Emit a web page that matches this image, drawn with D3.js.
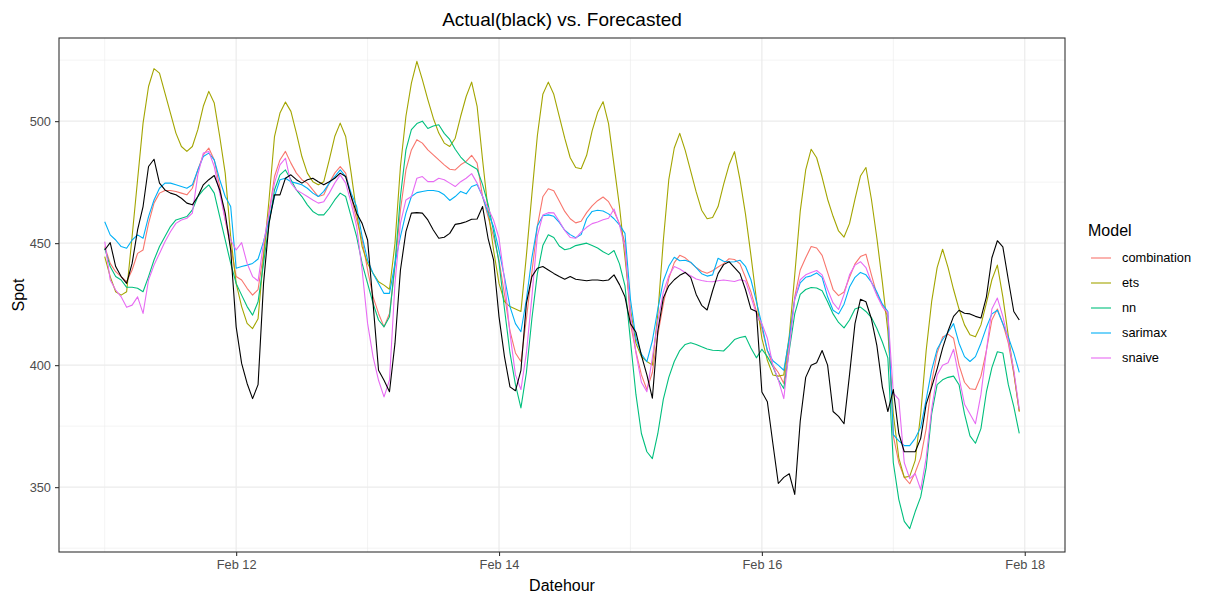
<!DOCTYPE html>
<html>
<head>
<meta charset="utf-8">
<script src="https://cdn.jsdelivr.net/npm/d3@7"></script>
<style>
  body { margin: 0; background: #ffffff; }
  svg { display: block; }
  text { font-family: "Liberation Sans", Arial, Helvetica, sans-serif; }
</style>
</head>
<body>
<svg id="chart" width="1207" height="599"></svg>
<script>
// Hourly observations, Feb 11 00:00 through Feb 17 23:00
const startTime = Date.UTC(2019, 1, 11, 0, 0);

const actual = [
  447.2,450.2,440.4,436.3,433.5,441.7,455.4,465.0,481.4,484.4,474.6,471.8,470.5,469.8,468.4,466.4,465.7,469.1,473.9,476.0,477.7,471.8,462.3,447.2,
  415.7,400.7,392.5,386.3,392.0,433.5,458.1,469.8,469.8,476.6,478.0,476.0,474.6,476.0,476.6,475.2,473.9,475.2,476.6,478.7,477.3,469.1,462.3,458.1,
  451.3,425.3,397.9,393.8,389.1,408.9,439.0,454.7,462.3,462.5,462.3,459.5,455.4,452.0,452.4,454.0,457.7,458.1,458.8,459.8,459.9,465.0,452.0,443.1,
  419.8,403.4,391.1,389.5,397.9,425.3,436.3,439.7,440.4,439.0,437.6,436.3,435.2,436.3,435.2,434.9,434.6,434.9,434.9,434.6,434.9,437.0,433.0,428.0,
  417.0,413.5,404.0,396.0,386.5,414.0,427.5,432.5,435.0,436.8,438.0,436.0,429.0,424.5,422.6,430.5,437.5,441.2,442.4,440.0,437.5,431.0,423.0,422.0,
  389.0,385.0,368.0,351.5,354.0,355.5,347.0,377.0,395.0,400.0,401.0,406.0,400.0,381.0,379.0,376.0,396.0,417.0,427.0,426.0,419.0,408.0,391.0,381.0,
  390.0,372.0,364.5,364.5,364.5,370.0,384.0,391.0,398.5,407.0,414.0,420.0,422.5,421.3,421.0,420.0,419.3,428.0,444.0,451.0,448.5,435.0,422.0,418.5
];

const combination = [
  448.6,441.7,438.3,436.3,434.2,439.0,445.8,447.2,458.1,466.4,470.5,471.6,471.6,471.2,470.5,469.8,472.5,480.0,486.2,489.0,484.1,473.2,459.5,448.6,
  436.3,434.9,431.5,428.7,431.0,445.8,462.3,477.3,484.1,487.6,482.8,478.7,476.0,474.6,471.8,469.1,469.8,474.6,478.7,481.4,478.7,469.1,459.5,451.3,
  439.0,428.0,421.2,415.7,421.2,440.4,463.6,480.0,488.2,492.4,491.0,488.2,486.2,484.1,482.1,480.3,480.0,482.1,483.5,486.0,482.8,469.1,460.9,452.7,
  443.0,429.0,414.0,405.0,401.5,419.0,438.0,457.0,469.0,472.3,471.5,467.3,463.0,460.0,458.3,459.0,462.5,465.3,467.4,468.9,467.0,463.0,458.0,450.0,
  417.0,405.5,396.0,390.0,397.0,412.5,425.0,435.5,442.0,445.0,444.0,442.0,440.0,438.5,437.7,438.7,440.2,441.6,443.6,443.3,441.5,436.0,430.0,422.0,
  415.0,406.0,400.0,397.0,392.5,410.0,428.0,439.0,444.0,448.6,448.0,445.0,438.0,431.0,428.5,430.0,436.0,441.5,444.5,445.5,437.0,429.0,424.5,420.0,
  371.0,360.0,354.0,351.4,356.0,362.0,374.0,393.0,405.0,411.5,412.7,411.0,400.0,393.0,390.3,390.0,395.5,406.0,418.5,423.0,417.0,409.0,396.5,381.0
];

const ets = [
  444.5,436.3,430.1,428.7,430.1,452.7,476.0,499.2,514.2,521.5,519.7,511.5,503.3,495.1,489.6,487.6,489.6,496.5,506.1,512.2,507.4,493.7,478.7,452.7,
  433.5,424.0,417.1,415.0,419.0,444.5,467.7,493.7,503.3,507.8,504.0,495.1,485.5,478.7,475.2,473.9,475.2,484.1,493.7,499.2,493.7,478.7,462.3,448.6,
  441.7,437.6,434.2,432.8,431.1,449.9,481.4,502.0,515.6,524.5,517.0,508.8,501.2,495.1,491.0,489.6,493.0,502.0,510.1,516.0,506.1,484.1,463.6,447.2,
  433.5,426.0,424.0,423.0,422.0,445.0,470.0,494.0,511.0,516.0,511.0,502.0,493.0,485.0,481.0,480.5,486.0,496.0,503.5,508.0,499.0,482.0,465.0,444.0,
  423.0,409.0,403.5,401.5,400.0,421.0,451.0,476.0,489.0,495.0,488.0,479.5,471.0,463.5,460.0,460.5,465.0,474.0,482.0,487.5,476.0,462.0,445.0,427.0,
  411.0,402.0,396.0,395.5,396.0,412.0,437.0,463.0,480.0,488.5,485.0,477.0,468.0,461.0,455.0,452.5,458.0,468.0,477.5,481.0,468.0,452.0,434.0,414.0,
  380.0,362.0,354.0,354.5,361.0,380.0,406.0,426.0,440.0,447.5,440.0,431.0,423.0,416.5,412.5,411.6,416.5,425.5,435.0,441.0,428.0,412.0,397.0,381.0
];

const nn = [
  447.9,440.4,436.3,434.9,431.9,431.9,431.5,430.1,436.3,443.1,448.6,452.7,456.8,459.5,460.2,460.9,463.6,469.1,471.8,473.9,470.5,460.9,451.3,441.7,
  433.5,428.7,424.0,420.5,426.0,441.7,458.1,471.8,478.0,480.0,476.0,471.8,469.1,465.7,463.0,461.6,461.6,464.3,467.7,470.5,469.1,460.9,452.7,441.7,
  433.5,425.3,418.5,415.7,419.8,441.7,469.1,488.2,496.5,499.0,500.0,497.0,498.0,498.5,495.0,492.5,488.5,485.3,483.0,481.6,480.3,474.0,466.0,455.0,
  442.0,423.0,405.0,392.0,382.5,397.0,419.0,437.5,449.0,453.4,452.3,448.8,447.3,447.8,449.0,449.5,450.0,449.0,448.0,446.5,445.3,447.0,441.5,432.5,
  410.0,388.0,372.0,364.5,361.7,372.0,386.0,395.0,401.5,406.0,408.5,409.2,408.5,407.5,406.6,406.1,406.0,405.8,408.0,410.5,411.3,411.8,407.0,403.0,
  406.5,403.5,399.5,394.0,390.4,406.0,421.0,429.0,431.0,431.8,431.6,430.5,426.0,421.0,417.5,415.3,418.5,423.0,423.8,422.0,419.5,415.0,409.5,403.0,
  360.0,345.0,336.0,333.0,340.0,346.0,358.0,380.0,392.0,394.0,395.0,395.5,392.0,380.0,371.0,368.0,374.0,389.0,399.0,405.5,405.0,392.0,383.0,372.0
];

const sarimax = [
  458.8,453.4,451.3,448.6,447.9,451.3,453.4,452.0,460.9,467.7,472.5,474.6,474.6,473.9,473.2,472.5,473.9,480.0,485.5,486.9,484.1,476.0,469.1,465.0,
  439.7,440.4,441.0,441.7,443.5,450.6,459.5,469.1,476.0,476.6,475.2,474.6,473.9,472.5,470.5,469.1,471.2,474.6,477.3,480.0,477.3,470.5,465.0,452.7,
  443.1,437.6,433.5,429.4,429.4,441.7,452.7,462.3,469.1,470.7,471.2,471.6,471.6,471.2,469.8,467.5,469.1,471.2,470.2,473.2,474.0,469.1,462.3,456.8,
  447.0,436.0,424.0,417.0,413.7,427.0,444.0,457.0,461.2,461.6,461.0,458.5,455.3,453.5,452.2,453.5,460.0,463.0,463.5,463.2,462.0,460.0,457.5,454.0,
  427.0,411.0,404.5,401.4,410.0,423.0,434.5,440.5,444.2,442.8,443.0,442.2,440.0,437.5,436.5,437.0,443.8,442.6,442.3,442.4,443.0,440.5,435.0,426.0,
  416.5,406.0,401.8,400.0,397.9,411.0,427.0,433.7,436.0,436.6,437.8,436.0,428.0,422.5,421.0,425.0,432.0,436.0,438.0,437.0,434.0,430.0,425.0,422.0,
  371.5,369.0,367.0,367.0,370.0,374.5,386.0,398.0,406.5,410.5,413.5,417.0,409.0,403.5,401.5,403.5,409.0,415.5,421.0,422.5,417.0,411.5,405.0,397.0
];

const snaive = [
  450.6,434.9,430.8,428.0,423.7,424.6,428.0,421.2,434.9,441.0,445.8,450.6,454.7,458.1,459.5,460.2,462.3,478.0,486.9,487.6,481.4,470.5,459.5,451.3,
  447.2,450.2,441.7,436.3,434.5,449.9,462.3,474.6,482.1,484.8,474.6,471.8,470.5,469.1,467.7,466.4,467.0,470.5,474.6,478.0,474.6,466.4,456.8,439.0,
  417.1,403.4,393.8,387.0,393.8,433.5,458.1,467.7,469.1,476.6,477.3,475.2,475.2,476.6,476.0,474.6,473.2,475.2,476.6,478.5,474.6,469.1,464.3,459.5,
  452.0,435.0,413.0,396.0,390.0,405.0,428.0,453.0,461.5,462.5,462.4,459.0,455.2,452.3,452.0,454.5,456.5,458.0,458.7,459.6,460.2,464.0,457.5,448.0,
  421.0,405.0,393.0,389.1,403.0,418.0,430.0,436.5,440.4,439.4,438.0,436.6,435.3,434.7,434.3,434.2,434.6,434.9,434.6,434.3,435.0,434.5,428.0,421.0,
  417.0,411.0,400.0,394.0,386.3,407.0,427.0,435.0,437.0,438.0,438.8,437.0,431.0,425.5,422.8,429.0,437.0,441.0,442.4,440.0,434.0,428.5,424.0,421.5,
  388.5,386.0,360.0,353.5,355.5,349.0,362.0,382.0,396.0,400.0,401.0,406.5,395.0,384.0,380.0,376.0,388.0,406.0,423.0,427.5,420.0,410.0,398.0,382.0
];

const modelNames = ["combination", "ets", "nn", "sarimax", "snaive"];
const modelValues = [combination, ets, nn, sarimax, snaive];
const modelColors = ["#F8766D", "#A3A500", "#00BF7D", "#00B0F6", "#E76BF3"];

const yMajorTicks = [350, 400, 450, 500];
const yMinorTicks = [325, 375, 425, 475, 525];
const xMajorTicks = [Date.UTC(2019, 1, 12), Date.UTC(2019, 1, 14), Date.UTC(2019, 1, 16), Date.UTC(2019, 1, 18)];
const xMinorTicks = [Date.UTC(2019, 1, 11), Date.UTC(2019, 1, 13), Date.UTC(2019, 1, 15), Date.UTC(2019, 1, 17)];
const xTickLabels = ["Feb 12", "Feb 14", "Feb 16", "Feb 18"];

const HOUR = 3600 * 1000;
const timeAt = i => new Date(startTime + i * HOUR);

// Panel geometry
const panel = { left: 59, right: 1065, top: 38, bottom: 552 };

const svg = d3.select("#chart");
svg.append("rect").attr("width", 1207).attr("height", 599).attr("fill", "#ffffff");

// Scales expanded by 5% on each side of the data range
const tExtent = [timeAt(0), timeAt(actual.length - 1)];
const tPad = (tExtent[1] - tExtent[0]) * 0.05;
const x = d3.scaleUtc()
  .domain([new Date(+tExtent[0] - tPad), new Date(+tExtent[1] + tPad)])
  .range([panel.left, panel.right]);

const allValues = [actual, ...modelValues].flat();
const vMin = d3.min(allValues), vMax = d3.max(allValues);
const vPad = (vMax - vMin) * 0.05;
const y = d3.scaleLinear()
  .domain([vMin - vPad, vMax + vPad])
  .range([panel.bottom, panel.top]);

// Grid lines
const grid = svg.append("g");
grid.selectAll("line.ymin").data(yMinorTicks).join("line")
  .attr("x1", panel.left).attr("x2", panel.right)
  .attr("y1", d => y(d)).attr("y2", d => y(d))
  .attr("stroke", "#EBEBEB").attr("stroke-width", 0.6);
grid.selectAll("line.xmin").data(xMinorTicks).join("line")
  .attr("y1", panel.top).attr("y2", panel.bottom)
  .attr("x1", d => x(new Date(d))).attr("x2", d => x(new Date(d)))
  .attr("stroke", "#EBEBEB").attr("stroke-width", 0.6);
grid.selectAll("line.ymaj").data(yMajorTicks).join("line")
  .attr("x1", panel.left).attr("x2", panel.right)
  .attr("y1", d => y(d)).attr("y2", d => y(d))
  .attr("stroke", "#EBEBEB").attr("stroke-width", 1.2);
grid.selectAll("line.xmaj").data(xMajorTicks).join("line")
  .attr("y1", panel.top).attr("y2", panel.bottom)
  .attr("x1", d => x(new Date(d))).attr("x2", d => x(new Date(d)))
  .attr("stroke", "#EBEBEB").attr("stroke-width", 1.2);

// Series lines
const line = d3.line()
  .x((d, i) => x(timeAt(i)))
  .y(d => y(d));

const plot = svg.append("g");
modelValues.forEach((vals, k) => {
  plot.append("path")
    .datum(vals)
    .attr("d", line)
    .attr("fill", "none")
    .attr("stroke", modelColors[k])
    .attr("stroke-width", 1.1)
    .attr("stroke-linejoin", "round");
});
plot.append("path")
  .datum(actual)
  .attr("d", line)
  .attr("fill", "none")
  .attr("stroke", "#000000")
  .attr("stroke-width", 1.1)
  .attr("stroke-linejoin", "round");

// Panel border
svg.append("rect")
  .attr("x", panel.left).attr("y", panel.top)
  .attr("width", panel.right - panel.left).attr("height", panel.bottom - panel.top)
  .attr("fill", "none").attr("stroke", "#333333").attr("stroke-width", 1.1);

// Axes
const yAxis = d3.axisLeft(y).tickValues(yMajorTicks).tickSize(4).tickPadding(4);
const gy = svg.append("g").attr("transform", `translate(${panel.left},0)`).call(yAxis);
const xAxis = d3.axisBottom(x)
  .tickValues(xMajorTicks.map(d => new Date(d)))
  .tickFormat((d, i) => xTickLabels[i])
  .tickSize(4).tickPadding(4);
const gx = svg.append("g").attr("transform", `translate(0,${panel.bottom})`).call(xAxis);
[gx, gy].forEach(g => {
  g.select(".domain").remove();
  g.selectAll(".tick line").attr("stroke", "#333333").attr("stroke-width", 1.1);
  g.selectAll(".tick text")
    .attr("fill", "#4D4D4D")
    .style("font-size", "12.8px")
    .style("font-family", "'Liberation Sans', Arial, sans-serif");
});

// Titles
svg.append("text")
  .attr("x", (panel.left + panel.right) / 2).attr("y", 26)
  .attr("text-anchor", "middle")
  .style("font-size", "19px").attr("fill", "#000")
  .text("Actual(black) vs. Forecasted");

svg.append("text")
  .attr("x", (panel.left + panel.right) / 2).attr("y", 591)
  .attr("text-anchor", "middle")
  .style("font-size", "16px").attr("fill", "#000")
  .text("Datehour");

svg.append("text")
  .attr("transform", `translate(24,${(panel.top + panel.bottom) / 2}) rotate(-90)`)
  .attr("text-anchor", "middle")
  .style("font-size", "16px").attr("fill", "#000")
  .text("Spot");

// Legend
const legend = svg.append("g").attr("transform", "translate(1088,0)");
legend.append("text")
  .attr("x", 0).attr("y", 236)
  .style("font-size", "16px").attr("fill", "#000")
  .text("Model");
const items = legend.selectAll("g.item").data(modelNames).join("g")
  .attr("transform", (d, i) => `translate(0,${258 + i * 25})`);
items.append("line")
  .attr("x1", 3).attr("x2", 23).attr("y1", 0).attr("y2", 0)
  .attr("stroke", (d, i) => modelColors[i]).attr("stroke-width", 1.1);
items.append("text")
  .attr("x", 34).attr("y", 0).attr("dy", "0.35em")
  .style("font-size", "12.8px").attr("fill", "#000")
  .text(d => d);
</script>
</body>
</html>
